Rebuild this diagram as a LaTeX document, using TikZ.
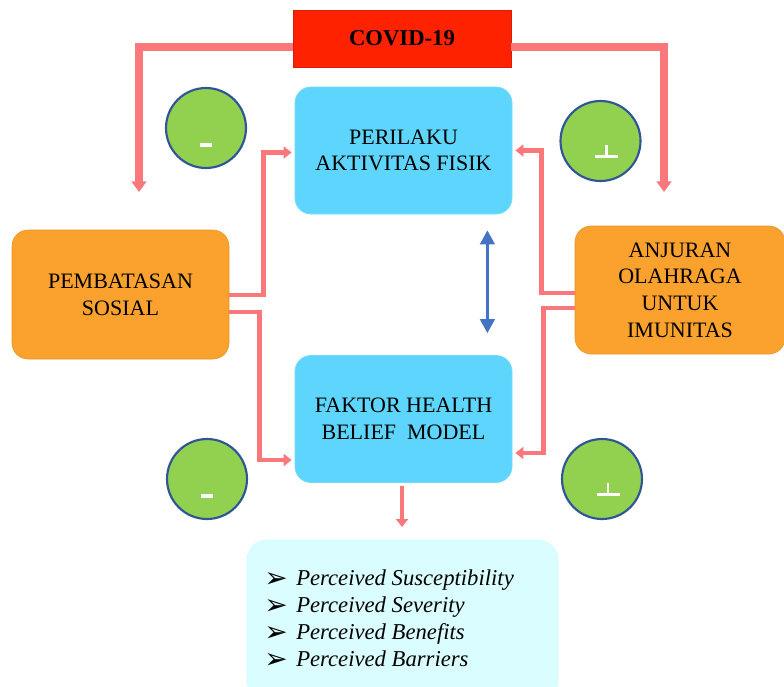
\documentclass[tikz,border=0pt]{standalone}
\usepackage{fontspec}
\setmainfont{Liberation Serif}
\newfontfamily\dejavu{DejaVu Sans}
\usetikzlibrary{arrows.meta,calc}

\definecolor{covidred}{HTML}{FF2200}
\definecolor{lineP}{HTML}{FA787C}
\definecolor{boxblue}{HTML}{5DD5FD}
\definecolor{boxorange}{HTML}{FBA12D}
\definecolor{listcyan}{HTML}{DAFDFF}
\definecolor{circgreen}{HTML}{92D050}
\definecolor{circblue}{HTML}{2F5597}
\definecolor{dblue}{HTML}{4472C4}
\newcommand\mybul{\smash{\raisebox{-1.5pt}{\dejavu\fontsize{21}{21}\selectfont ➢}}}

\begin{document}
\begin{tikzpicture}[x=0.75pt,y=-0.75pt,
  boxtext/.style={align=center, font=\fontsize{16.5}{20}\selectfont, text=black},
  bluebox/.style={boxtext, rectangle, rounded corners=12pt, fill=boxblue,
    draw=boxblue!85!white, line width=0.6pt, minimum width=162.75pt,
    minimum height=95.25pt, inner sep=0pt},
  orangebox/.style={boxtext, rectangle, rounded corners=12pt, fill=boxorange,
    draw=boxorange!92!black, line width=0.4pt, inner sep=0pt},
  signc/.style={circle, fill=circgreen, draw=circblue, line width=1.6pt,
    minimum size=60pt, inner sep=0pt},
  bigarrow/.style={draw=lineP, line width=6pt, -{Triangle[width=11pt,length=8pt]}},
  smallarrow/.style={draw=lineP, line width=3.6pt, -{Triangle[width=9pt,length=6pt]}},
  dblarrow/.style={draw=dblue, line width=1.8pt,
    {Triangle[width=11pt,length=10.5pt]}-{Triangle[width=11pt,length=10.5pt]}},
]
\useasboundingbox (0,0) rectangle (784,686);

% boxes
\node[rectangle, fill=covidred, draw=covidred!85!black, line width=0.5pt,
  minimum width=163.5pt, minimum height=42.75pt, inner sep=0pt,
  font=\bfseries\fontsize{17}{20}\selectfont] (covid) at (402,38.5) {COVID-19};
\node[bluebox] (peri) at (403.5,150.5) {PERILAKU\\AKTIVITAS FISIK};
\node[bluebox] (fak) at (403.5,419) {FAKTOR HEALTH\\BELIEF\ \ MODEL};
\node[orangebox, minimum width=162.75pt, minimum height=96.75pt] (pemb) at (120.5,294.5) {PEMBATASAN\\SOSIAL};
\node[orangebox, minimum width=157.5pt, minimum height=96pt] (anj) at (680,290) {ANJURAN\\OLAHRAGA\\UNTUK\\IMUNITAS};
\node[rectangle, rounded corners=15pt, fill=listcyan, draw=listcyan!92!cyan,
  line width=0.4pt, minimum width=233.25pt, minimum height=120pt, inner sep=0pt] (list) at (402.5,620) {};
\node[anchor=west, align=left, inner sep=0pt, font=\fontsize{17}{20.25}\selectfont] (items) at (264,618)
  {\makebox[24pt][l]{\mybul}\textit{Perceived Susceptibility}\\
   \makebox[24pt][l]{\mybul}\textit{Perceived Severity}\\
   \makebox[24pt][l]{\mybul}\textit{Perceived Benefits}\\
   \makebox[24pt][l]{\mybul}\textit{Perceived Barriers}};

% sign circles
\node[signc] (c1) at (206,128) {};
\node[signc] (c2) at (600.5,141) {};
\node[signc] (c3) at (207,479) {};
\node[signc] (c4) at (602,479) {};
\fill[white] ($(c1)+(-6,15)$) rectangle ($(c1)+(6,19)$);
\fill[white] ($(c3)+(-6,15)$) rectangle ($(c3)+(6,19)$);
\fill[white] ($(c2)+(-5.5,14)$) rectangle ($(c2)+(17.5,17)$);
\fill[white] ($(c2)+(4.5,4)$) rectangle ($(c2)+(7,16)$);
\fill[white] ($(c4)+(-5.5,14)$) rectangle ($(c4)+(17.5,17)$);
\fill[white] ($(c4)+(4.5,4)$) rectangle ($(c4)+(7,16)$);

% free arrow ends
\coordinate (lt) at (139,192);
\coordinate (rt) at (664,192);
\coordinate (lb) at (402,527);

% connectors
\draw[bigarrow] ($(covid.west)+(0,8.5)$) -| (lt);
\draw[bigarrow] ($(covid.east)+(0,8.5)$) -| (rt);
\draw[smallarrow] ($(pemb.east)+(0,0.5)$) -- ++(34,0) |- ($(peri.west)+(-3,2)$);
\draw[smallarrow] ($(pemb.east)+(0,17.5)$) -- ++(30,0) |- ($(fak.west)+(-3,41)$);
\draw[smallarrow] ($(anj.west)+(0,3)$) -- ++(-33,0) |- ($(peri.east)+(3,0)$);
\draw[smallarrow] ($(anj.west)+(0,18)$) -- ++(-31,0) |- ($(fak.east)+(3,34)$);
\draw[smallarrow] ($(fak.south)+(-1.5,3)$) -- (lb);
\draw[dblarrow] ($(peri.south east)+(-25,16)$) -- ($(fak.north east)+(-25,-22)$);
\end{tikzpicture}
\end{document}
